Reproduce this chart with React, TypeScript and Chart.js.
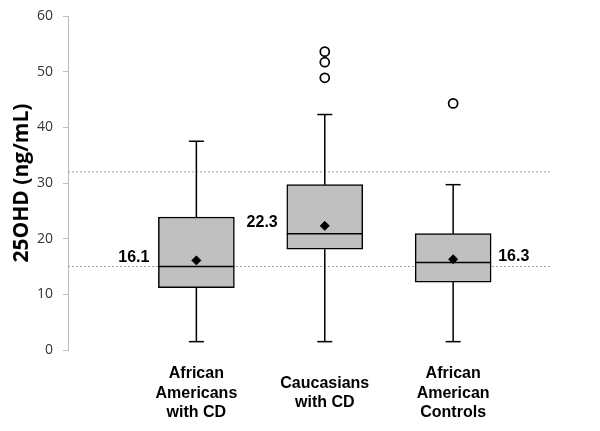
import React, { useEffect, useRef } from "react";
import { Chart, registerables } from "chart.js";

Chart.register(...registerables);

const categories: string[][] = [
  ["African", "Americans", "with CD"],
  ["Caucasians", "with CD"],
  ["African", "American", "Controls"],
];
const positions = [1, 2, 3];
const q1 = [11.2, 18.1, 12.2];
const q3 = [23.9, 29.7, 20.9];
const medians = [15.0, 20.9, 15.7];
const means = [16.1, 22.3, 16.3];
const meanLabels = ["16.1", "22.3", "16.3"];
const meanLabelSide = ["left", "left", "right"];
const whiskerLow = [1.5, 1.5, 1.5];
const whiskerHigh = [37.5, 42.3, 29.7];
const outliers: number[][] = [[], [48.9, 51.7, 53.6], [44.3]];
const refLines = [15, 32];
const yTicks = [0, 10, 20, 30, 40, 50, 60];
const xMin = 0;
const xMax = 3.77;

const BOLD = "'Liberation Sans', Arial, sans-serif";

export default function App() {
  const ref = useRef<HTMLCanvasElement | null>(null);

  useEffect(() => {
    document.body.style.margin = "0";
    const canvas = ref.current;
    if (!canvas) return;

    const whiskerData: any[] = [];
    positions.forEach((p, i) => {
      whiskerData.push({ x: p, y: whiskerLow[i] }, { x: p, y: q1[i] }, { x: p, y: null });
      whiskerData.push({ x: p, y: q3[i] }, { x: p, y: whiskerHigh[i] }, { x: p, y: null });
    });
    const capData: any[] = [];
    positions.forEach((p, i) => {
      capData.push({ x: p, y: whiskerLow[i] }, { x: p, y: whiskerHigh[i] });
    });
    const refData: any[] = [];
    refLines.forEach((v) => {
      refData.push({ x: xMin, y: v }, { x: xMax, y: v }, { x: xMax, y: null });
    });
    const outlierData: any[] = [];
    positions.forEach((p, i) => outliers[i].forEach((v) => outlierData.push({ x: p, y: v })));

    const meanLabelPlugin = {
      id: "meanLabels",
      afterDatasetsDraw(chart: any) {
        const { ctx, scales } = chart;
        ctx.save();
        ctx.font = `bold 16px ${BOLD}`;
        ctx.fillStyle = "#000";
        ctx.textBaseline = "middle";
        positions.forEach((p, i) => {
          const cx = scales.x.getPixelForValue(p);
          const cy = scales.y.getPixelForValue(means[i]) - 3;
          if (meanLabelSide[i] === "left") {
            ctx.textAlign = "right";
            ctx.fillText(meanLabels[i], cx - 47, cy);
          } else {
            ctx.textAlign = "left";
            ctx.fillText(meanLabels[i], cx + 45, cy);
          }
        });
        ctx.restore();
      },
    };

    const chart = new Chart(canvas, {
      type: "bar",
      data: {
        datasets: [
          {
            type: "bar",
            data: positions.map((p, i) => ({ x: p, y: [q1[i], q3[i]] })) as any,
            backgroundColor: "#c0c0c0",
            borderColor: "#000",
            borderWidth: 1.5,
            borderSkipped: false,
            barThickness: 76,
            order: 5,
          } as any,
          {
            type: "scatter",
            data: medians.map((m, i) => ({ x: positions[i], y: m })),
            pointStyle: "line",
            pointRadius: 38,
            borderColor: "#000",
            borderWidth: 1.5,
            order: 4,
          } as any,
          {
            type: "scatter",
            data: whiskerData,
            showLine: true,
            spanGaps: false,
            pointRadius: 0,
            borderColor: "#000",
            borderWidth: 1.5,
            order: 4,
          } as any,
          {
            type: "scatter",
            data: capData,
            pointStyle: "line",
            pointRadius: 7.5,
            borderColor: "#000",
            borderWidth: 1.5,
            order: 4,
          } as any,
          {
            type: "scatter",
            data: means.map((m, i) => ({ x: positions[i], y: m })),
            pointStyle: "rectRot",
            pointRadius: 4.5,
            backgroundColor: "#000",
            borderColor: "#000",
            borderWidth: 1,
            order: 1,
          } as any,
          {
            type: "scatter",
            data: outlierData,
            pointStyle: "circle",
            pointRadius: 4.5,
            backgroundColor: "#fff",
            borderColor: "#000",
            borderWidth: 1.7,
            order: 1,
          } as any,
          {
            type: "scatter",
            data: refData,
            showLine: true,
            spanGaps: false,
            pointRadius: 0,
            borderColor: "#a0a0a0",
            borderWidth: 1,
            borderDash: [2, 2],
            order: 10,
          } as any,
        ],
      },
      options: {
        animation: false,
        responsive: false,
        maintainAspectRatio: false,
        layout: { autoPadding: false, padding: { left: 0, top: 16, right: 48, bottom: 0 } },
        plugins: {
          legend: { display: false },
          tooltip: { enabled: false },
        },
        scales: {
          x: {
            type: "linear",
            min: xMin,
            max: xMax,
            offset: false,
            afterBuildTicks: (scale: any) => {
              scale.ticks = positions.map((p) => ({ value: p }));
            },
            afterFit: (scale: any) => {
              scale.height = 81;
              scale.paddingLeft = 0;
              scale.paddingRight = 0;
              scale.paddingTop = 0;
              scale.paddingBottom = 0;
            },
            grid: { display: false, drawTicks: false, offset: false },
            border: { display: false },
            ticks: {
              autoSkip: false,
              maxRotation: 0,
              minRotation: 0,
              padding: 24,
              crossAlign: "center",
              color: "#000",
              font: { family: BOLD, size: 16, weight: "bold", lineHeight: 1.2 },
              callback: (v: any) => {
                const idx = positions.indexOf(Number(v));
                return idx >= 0 ? categories[idx] : "";
              },
            },
          } as any,
          y: {
            type: "linear",
            min: 0,
            max: 60,
            afterBuildTicks: (scale: any) => {
              scale.ticks = yTicks.map((v) => ({ value: v }));
            },
            afterFit: (scale: any) => {
              scale.width = 68;
              scale.paddingLeft = 0;
              scale.paddingRight = 0;
              scale.paddingTop = 0;
              scale.paddingBottom = 0;
            },
            grid: {
              display: true,
              drawOnChartArea: false,
              drawTicks: true,
              tickLength: 5,
              tickColor: "#bdbdbd",
              color: "#bdbdbd",
            },
            border: { display: true, color: "#bdbdbd", width: 1 },
            ticks: {
              padding: 10,
              color: "#333",
              font: { family: "'Open Sans', sans-serif", size: 14 },
            },
            title: {
              display: true,
              text: "25OHD (ng/mL)",
              color: "#000",
              padding: { top: 9, bottom: 0 },
              font: { family: "'Open Sans', sans-serif", size: 21, weight: "bold", lineHeight: 1.2 },
            },
          } as any,
        },
      },
      plugins: [meanLabelPlugin],
    });

    return () => chart.destroy();
  }, []);

  return (
    <div style={{ width: 600, height: 431 }}>
      <canvas ref={ref} width={600} height={431} style={{ display: "block" }} />
    </div>
  );
}
